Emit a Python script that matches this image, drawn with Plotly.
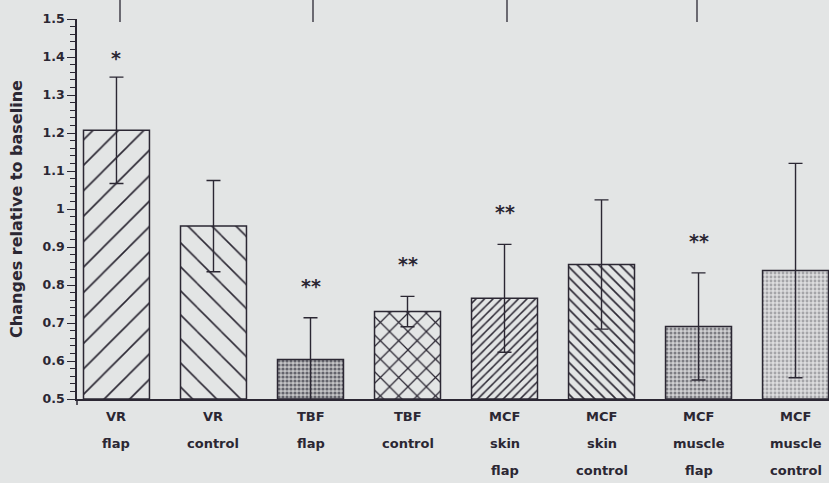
import plotly.graph_objects as go

# ---- data ----
categories = ["VR flap", "VR control", "TBF flap", "TBF control",
              "MCF skin flap", "MCF skin control", "MCF muscle flap", "MCF muscle control"]
label_lines = [["VR", "flap"], ["VR", "control"], ["TBF", "flap"], ["TBF", "control"],
               ["MCF", "skin", "flap"], ["MCF", "skin", "control"],
               ["MCF", "muscle", "flap"], ["MCF", "muscle", "control"]]
values = [1.207, 0.955, 0.604, 0.730, 0.765, 0.854, 0.691, 0.838]
errors = [0.140, 0.120, 0.110, 0.040, 0.142, 0.170, 0.141, 0.282]
significance = ["*", "", "**", "**", "**", "", "**", ""]
y_ticks = [0.5, 0.6, 0.7, 0.8, 0.9, 1.0, 1.1, 1.2, 1.3, 1.4, 1.5]

INK = "#2b2733"
BG = "#e3e5e5"
FONT = "DejaVu Sans"

patterns = [
    dict(shape="/", size=18, solidity=0.09, fgcolor=INK, bgcolor=BG),
    dict(shape="\\", size=17, solidity=0.09, fgcolor=INK, bgcolor=BG),
    dict(shape=".", size=4, solidity=0.5, fgcolor="#64646c", bgcolor="#c4c4c6"),
    dict(shape="x", size=13, solidity=0.18, fgcolor=INK, bgcolor=BG),
    dict(shape="/", size=6, solidity=0.25, fgcolor=INK, bgcolor=BG),
    dict(shape="\\", size=7.5, solidity=0.22, fgcolor=INK, bgcolor=BG),
    dict(shape=".", size=4, solidity=0.45, fgcolor="#7c7c82", bgcolor="#d0d0d2"),
    dict(shape=".", size=4, solidity=0.4, fgcolor="#a4a4a8", bgcolor="#dcdcde"),
]

x = list(range(len(categories)))

fig = go.Figure()
fig.add_trace(go.Bar(
    x=x, y=[v - 0.5 for v in values], base=0.5,
    width=0.68,
    marker=dict(color=BG, line=dict(color=INK, width=1.5), pattern=dict(
        shape=[p["shape"] for p in patterns],
        size=[p["size"] for p in patterns],
        solidity=[p["solidity"] for p in patterns],
        fgcolor=[p["fgcolor"] for p in patterns],
        bgcolor=[p["bgcolor"] for p in patterns],
        fillmode="replace")),
    error_y=dict(type="data", array=errors, visible=True, color=INK, thickness=1.4, width=7),
    hoverinfo="skip", showlegend=False,
))

annotations = []
for i, lines in enumerate(label_lines):
    for j, t in enumerate(lines):
        annotations.append(dict(x=i, xref="x", y=0, yref="paper", text=t, showarrow=False,
                                yanchor="middle", yshift=-17 - 27 * j,
                                font=dict(family=FONT, size=13, color=INK, weight="bold")))
for i, s in enumerate(significance):
    if s:
        annotations.append(dict(x=i, xref="x", y=values[i] + errors[i], yref="y", text=s,
                                showarrow=False, yanchor="bottom",
                                yshift=19 if len(s) > 1 else 6,
                                font=dict(family=FONT, size=19, color=INK, weight="bold")))

shapes = [dict(type="line", xref="paper", yref="paper", x0=0, x1=0, y0=-0.016, y1=0,
               line=dict(color=INK, width=1.5))]
# scanning artefacts: stray vertical lines from the figure above
for px in [120, 313, 507, 697]:
    xp = (px - 77) / 752
    shapes.append(dict(type="line", xref="paper", yref="paper", x0=xp, x1=xp,
                       y0=0.992, y1=1.06, line=dict(color=INK, width=1.3)))

fig.update_layout(
    width=829, height=483,
    margin=dict(l=77, r=0, t=19, b=84),
    paper_bgcolor=BG, plot_bgcolor=BG,
    font=dict(family=FONT, color=INK),
    annotations=annotations, shapes=shapes,
    xaxis=dict(range=[-0.407, 7.345], showticklabels=False, ticks="", showgrid=False,
               zeroline=False, showline=True, linecolor=INK, linewidth=1.5),
    yaxis=dict(range=[0.5, 1.5], tickvals=y_ticks, ticktext=[f"{v:g}" for v in y_ticks],
               ticks="outside", ticklen=8, tickwidth=1.3, tickcolor=INK,
               showgrid=False, zeroline=False, showline=True, linecolor=INK, linewidth=1.5,
               tickfont=dict(family=FONT, size=12.5, color=INK, weight="bold"),
               minor=dict(dtick=0.02, ticks="outside", ticklen=5, tickwidth=1.1, tickcolor=INK,
                          showgrid=False),
               title=dict(text="Changes relative to baseline", standoff=16,
                          font=dict(family=FONT, size=16, color=INK, weight="bold"))),
)

fig.write_html("out.html", config={"displayModeBar": False},
               post_script="document.body.style.margin='0';document.body.style.overflow='hidden';"
                           "document.body.style.background='%s';" % BG)
